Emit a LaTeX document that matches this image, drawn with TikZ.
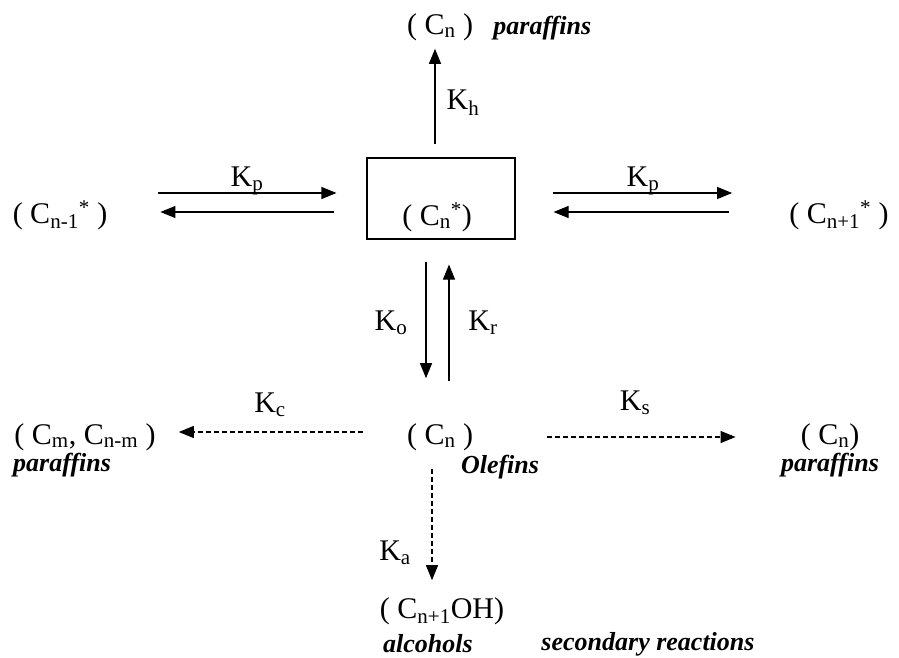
\documentclass[tikz,border=0pt]{standalone}
\usepackage{fontspec}
\setmainfont{Liberation Serif}
\usepackage{tikz}
\usetikzlibrary{arrows.meta,positioning}

\begin{document}
\begin{tikzpicture}[x=1pt,y=-1pt,
  every node/.style={inner sep=0pt,font=\fontsize{30}{34}\selectfont},
  lab/.style={font=\fontsize{26}{30}\selectfont\bfseries\itshape},
  fwd/.style={-{Triangle[length=15pt,width=12pt]},line width=1.1pt},
  side/.style={fwd,dash pattern=on 5pt off 3pt}]
\useasboundingbox (0,0) rectangle (899,658);
% intermediates
\node[draw,line width=1.1pt,minimum width=148pt,minimum height=81pt] (box) at (441,198.5) {};
\node (cnstar) at (437,217) {( C\textsubscript{n}\textsuperscript{*})};
\node (cmone) at (60,215) {( C\textsubscript{n-1}\textsuperscript{*} )};
\node (cpone) at (839,215) {( C\textsubscript{n+1}\textsuperscript{*} )};
\node (ctop) at (440,27) {( C\textsubscript{n} )};
\node[lab,base right=20pt of ctop] (ptop) {paraffins};
% olefins and secondary products
\node (olef) at (440,437) {( C\textsubscript{n} )};
\node[lab] (olab) at (500,467) {Olefins};
\node (cmix) at (85,437) {( C\textsubscript{m}, C\textsubscript{n-m} )};
\node[lab,anchor=west] (pmix) at (13,465) {paraffins};
\node (cright) at (830,437) {( C\textsubscript{n})};
\node[lab] (pright) at (830,465) {paraffins};
\node (coh) at (442,611) {( C\textsubscript{n+1}OH)};
\node[lab] (alc) at (428,644) {alcohols};
\node[lab] (sec) at (648,644) {secondary reactions};
% rate constants
\node (kh) at (463,103) {K\textsubscript{h}};
\node (kpl) at (247,181) {K\textsubscript{p}};
\node (kpr) at (643,181) {K\textsubscript{p}};
\node (ko) at (391,323) {K\textsubscript{o}};
\node (kr) at (483,323) {K\textsubscript{r}};
\node (kc) at (270,405) {K\textsubscript{c}};
\node (ks) at (635,403) {K\textsubscript{s}};
\node (ka) at (395,553) {K\textsubscript{a}};
% main arrows
\draw[fwd,shorten <=13pt,shorten >=8pt] ([xshift=-5pt]ctop.south |- box.north) -- ([xshift=-5pt]ctop.south);
\draw[fwd,shorten <=51pt,shorten >=30pt] ([yshift=22pt]cmone.east) -- ([yshift=22pt]cmone.east -| box.west);
\draw[fwd,shorten <=32pt,shorten >=53pt] ([yshift=3pt]cmone.east -| box.west) -- ([yshift=3pt]cmone.east);
\draw[fwd,shorten <=37pt,shorten >=57pt] ([yshift=22pt]cpone.west -| box.east) -- ([yshift=22pt]cpone.west);
\draw[fwd,shorten <=60pt,shorten >=38pt] ([yshift=3pt]cpone.west) -- ([yshift=3pt]cpone.west -| box.east);
\draw[fwd,shorten <=22pt,shorten >=45pt] ([xshift=-15pt]box.south) -- ([xshift=-15pt]box.south |- olef.north);
\draw[fwd,shorten <=42pt,shorten >=25pt] ([xshift=8pt]box.south |- olef.north) -- ([xshift=8pt]box.south);
% secondary arrows
\draw[side,shorten <=44pt,shorten >=23pt] ([yshift=5pt]olef.west) -- ([yshift=5pt]olef.west -| cmix.east);
\draw[side,shorten <=74pt,shorten >=65pt] ([yshift=0pt]olef.east) -- ([yshift=0pt]olef.east -| cright.west);
\draw[side,shorten <=18pt,shorten >=17pt] ([xshift=-8pt]olef.south) -- ([xshift=-8pt]olef.south |- coh.north);
\end{tikzpicture}
\end{document}
